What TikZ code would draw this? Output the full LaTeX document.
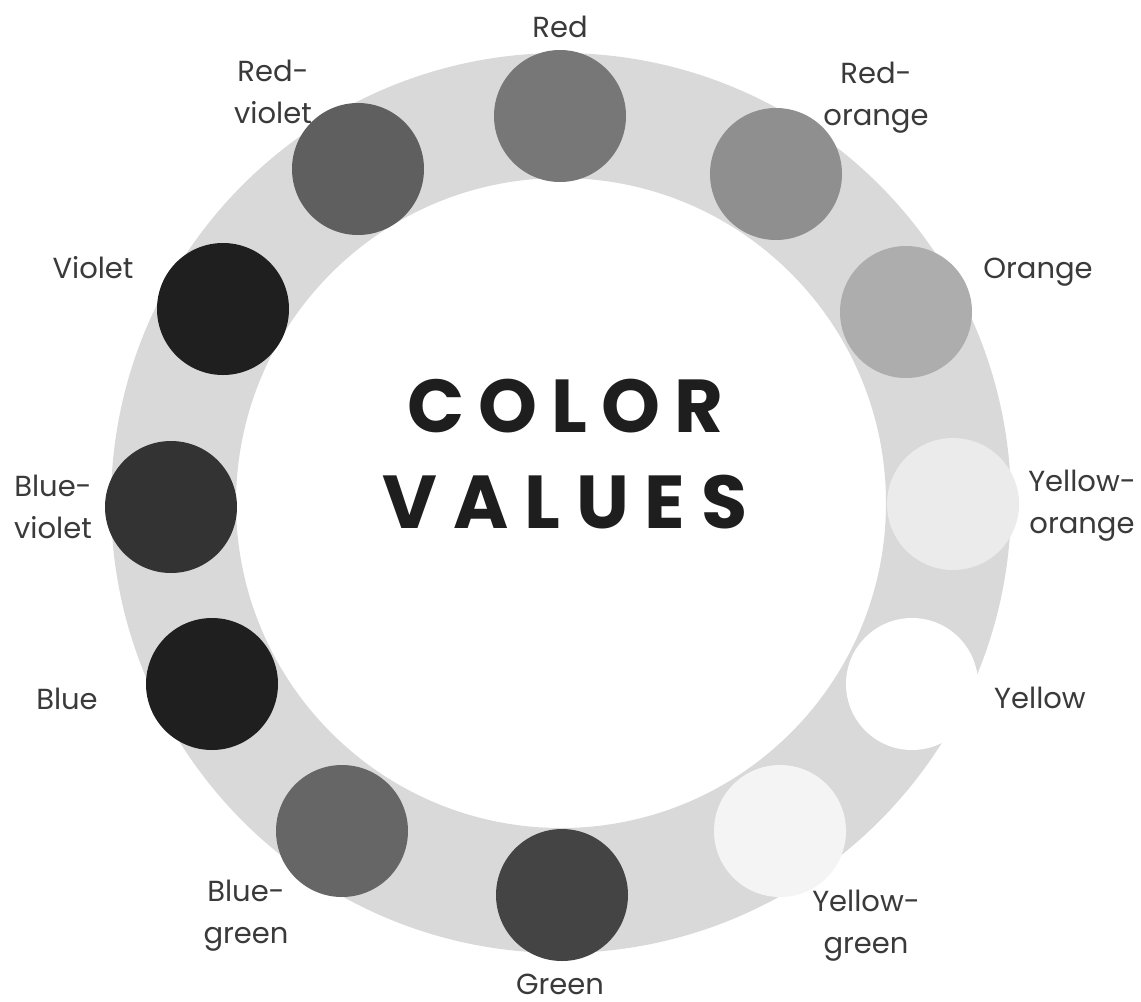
\documentclass[tikz,border=0pt]{standalone}
\usepackage{fontspec}
\setmainfont{Poppins}
\newfontfamily\titlefont{Poppins}[UprightFont=* Bold]
\definecolor{ringgray}{HTML}{D9D9D9}
\definecolor{labelgray}{HTML}{3A3A3A}
\definecolor{titlegray}{HTML}{1E1E1E}
\definecolor{cRed}{HTML}{777777}
\definecolor{cRedOrange}{HTML}{8F8F8F}
\definecolor{cOrange}{HTML}{ADADAD}
\definecolor{cYellowOrange}{HTML}{EBEBEB}
\definecolor{cYellow}{HTML}{FFFFFF}
\definecolor{cYellowGreen}{HTML}{F4F4F4}
\definecolor{cGreen}{HTML}{444444}
\definecolor{cBlueGreen}{HTML}{666666}
\definecolor{cBlue}{HTML}{1F1F1F}
\definecolor{cBlueViolet}{HTML}{333333}
\definecolor{cViolet}{HTML}{1F1F1F}
\definecolor{cRedViolet}{HTML}{5F5F5F}
\tikzset{
  swatch/.style={circle, draw=none, inner sep=0pt, minimum size=132bp},
  lab/.style={anchor=base, align=center, inner sep=0pt, text=labelgray,
    font=\fontsize{29bp}{42bp}\selectfont},
  ttl/.style={anchor=base, inner sep=0pt, text=titlegray,
    font=\titlefont\fontsize{75bp}{75bp}\selectfont}
}
\begin{document}
\begin{tikzpicture}[x=1bp, y=-1bp]
\useasboundingbox[fill=white] (0,0) rectangle (1141,1002);
% ring
\fill[ringgray, even odd rule] (561,503) circle[radius=450bp] (561,503) circle[radius=325bp];
% swatches
\node[swatch, fill=cRed]          (red)  at (560,116) {};
\node[swatch, fill=cRedOrange]    (ro)   at (776,174) {};
\node[swatch, fill=cOrange]       (or)   at (906,312) {};
\node[swatch, fill=cYellowOrange] (yo)   at (953,504) {};
\node[swatch, fill=cYellow]       (ye)   at (912,684) {};
\node[swatch, fill=cYellowGreen]  (yg)   at (780,831) {};
\node[swatch, fill=cGreen]        (gr)   at (562,895) {};
\node[swatch, fill=cBlueGreen]    (bg)   at (342,831) {};
\node[swatch, fill=cBlue]         (bl)   at (212,684) {};
\node[swatch, fill=cBlueViolet]   (bv)   at (171,507) {};
\node[swatch, fill=cViolet]       (vi)   at (223,309) {};
\node[swatch, fill=cRedViolet]    (rv)   at (358,169) {};
% labels (anchor = baseline of last line)
\node[lab] (lred) at (560,37)  {Red};
\node[lab] (lro)  at (876,125) {Red-\\orange};
\node[lab] (lor)  at (1038,278) {Orange};
\node[lab] (lyo)  at (1082,533) {Yellow-\\orange};
\node[lab] (lye)  at (1040,708) {Yellow};
\node[lab] (lyg)  at (866,953) {Yellow-\\green};
\node[lab] (lgr)  at (560,994) {Green};
\node[lab] (lbg)  at (246,943) {Blue-\\green};
\node[lab] (lbl)  at (67,709)  {Blue};
\node[lab] (lbv)  at (53,538)  {Blue-\\violet};
\node[lab] (lvi)  at (93,278)  {Violet};
\node[lab] (lrv)  at (273,123) {Red-\\violet};
% title
\node[ttl] (t1) at (565,432) {\makebox[316bp][s]{C\hfill O\hfill L\hfill O\hfill R}};
\node[ttl] (t2) at (565,528) {\makebox[365bp][s]{V\hfill A\hfill L\hfill U\hfill E\hfill S}};
\end{tikzpicture}
\end{document}
